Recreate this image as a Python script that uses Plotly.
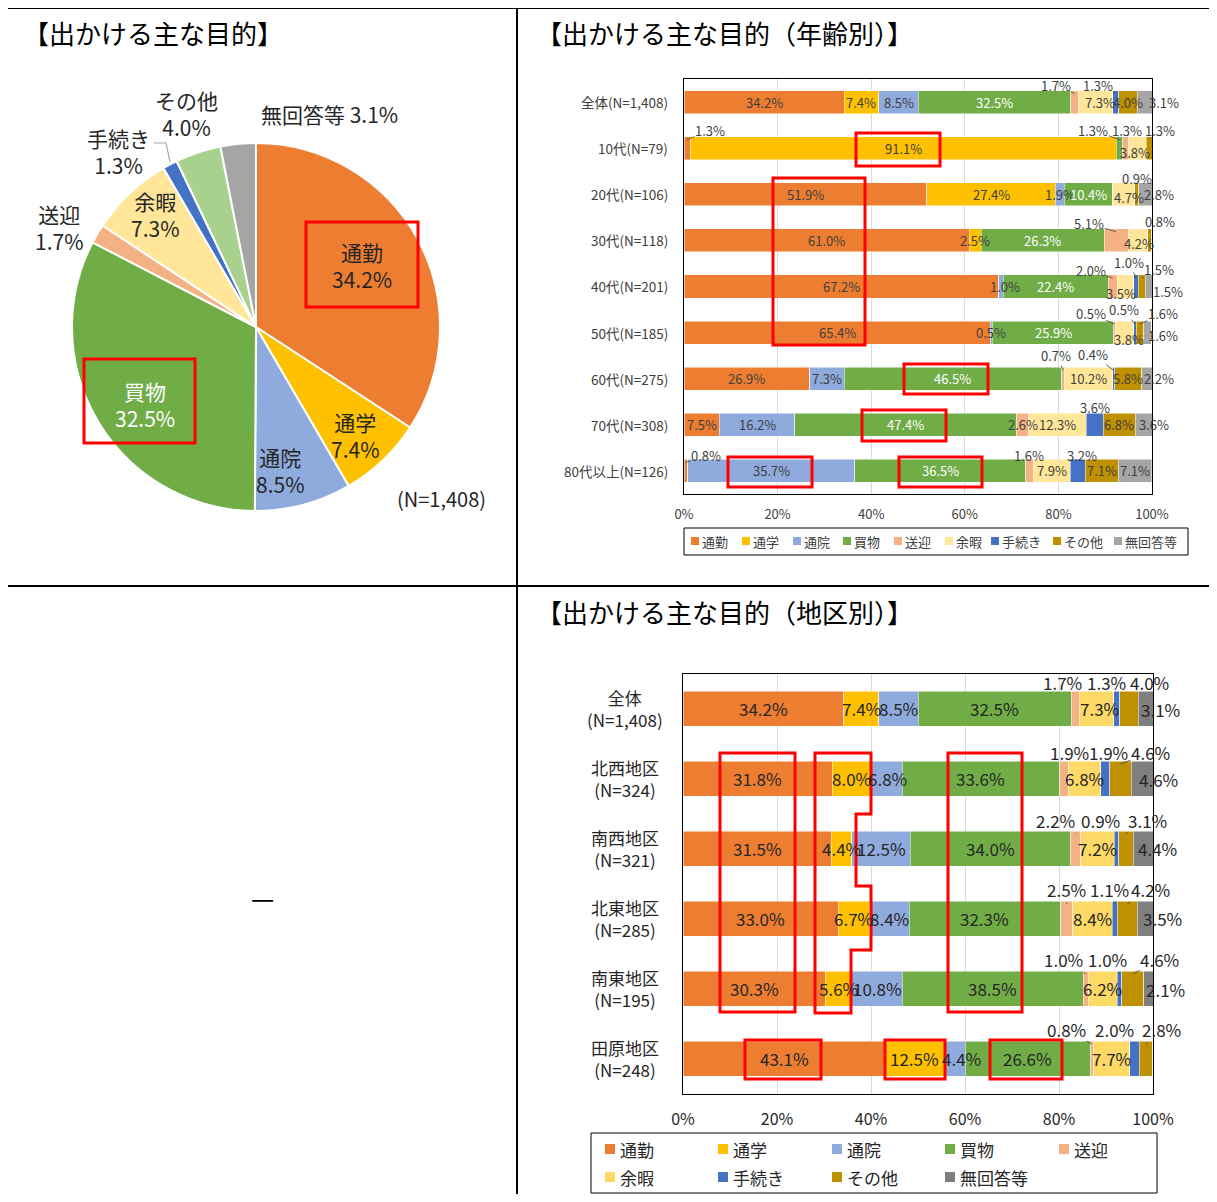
import plotly.graph_objects as go

# page body has an 8px margin, so the figure is 16px smaller than the window
W, H = 1201, 1186
OX, OY = 8, 8
FONT = "Noto Sans CJK JP"


def px(x):
    return (x - OX) / W


def py(y):
    return 1 - (y - OY) / H


# ---------------- data ----------------
categories = ["通勤", "通学", "通院", "買物", "送迎", "余暇", "手続き", "その他", "無回答等"]

pie_values = [34.2, 7.4, 8.5, 32.5, 1.7, 7.3, 1.3, 4.0, 3.1]
pie_n = "(N=1,408)"

age_groups = ["全体(N=1,408)", "10代(N=79)", "20代(N=106)", "30代(N=118)", "40代(N=201)",
              "50代(N=185)", "60代(N=275)", "70代(N=308)", "80代以上(N=126)"]
age_tsukin = [34.2, 1.3, 51.9, 61.0, 67.2, 65.4, 26.9, 7.5, 0.8]
age_tsugaku = [7.4, 91.1, 27.4, 2.5, 0.0, 0.0, 0.0, 0.0, 0.0]
age_tsuin = [8.5, 0.0, 1.9, 0.0, 1.0, 0.5, 7.3, 16.2, 35.7]
age_kaimono = [32.5, 1.3, 10.4, 26.3, 22.4, 25.9, 46.5, 47.4, 36.5]
age_sogei = [1.7, 1.3, 0.0, 5.1, 2.0, 0.5, 0.7, 2.6, 1.6]
age_yoka = [7.3, 3.8, 4.7, 4.2, 3.5, 3.8, 10.2, 12.3, 7.9]
age_tetsuzuki = [1.3, 0.0, 0.0, 0.0, 1.0, 0.5, 0.4, 3.6, 3.2]
age_sonota = [4.0, 1.3, 0.9, 0.8, 1.5, 1.6, 5.8, 6.8, 7.1]
age_mukaito = [3.1, 0.0, 2.8, 0.0, 1.5, 1.6, 2.2, 3.6, 7.1]

area_names = ["全体", "北西地区", "南西地区", "北東地区", "南東地区", "田原地区"]
area_n = ["(N=1,408)", "(N=324)", "(N=321)", "(N=285)", "(N=195)", "(N=248)"]
area_tsukin = [34.2, 31.8, 31.5, 33.0, 30.3, 43.1]
area_tsugaku = [7.4, 8.0, 4.4, 6.7, 5.6, 12.5]
area_tsuin = [8.5, 6.8, 12.5, 8.4, 10.8, 4.4]
area_kaimono = [32.5, 33.6, 34.0, 32.3, 38.5, 26.6]
area_sogei = [1.7, 1.9, 2.2, 2.5, 1.0, 0.8]
area_yoka = [7.3, 6.8, 7.2, 8.4, 6.2, 7.7]
area_tetsuzuki = [1.3, 1.9, 0.9, 1.1, 1.0, 2.0]
area_sonota = [4.0, 4.6, 3.1, 4.2, 4.6, 2.8]
area_mukaito = [3.1, 4.6, 4.4, 3.5, 2.1, 0.0]

x_tick_vals = [0, 20, 40, 60, 80, 100]
x_tick_text = ["0%", "20%", "40%", "60%", "80%", "100%"]

# ---------------- styles ----------------
colors_pie = ["#ED7D31", "#FFC000", "#8FAADC", "#70AD47", "#F4B183", "#FFE699", "#4472C4", "#A9D18E", "#A5A5A5"]
colors_age = ["#ED7D31", "#FFC000", "#8FAADC", "#70AD47", "#F4B183", "#FFE699", "#4472C4", "#BF9000", "#A5A5A5"]
colors_area = ["#ED7D31", "#FFC000", "#8FAADC", "#70AD47", "#F4B183", "#FFD966", "#4472C4", "#BF9000", "#7F7F7F"]

age_series = [age_tsukin, age_tsugaku, age_tsuin, age_kaimono, age_sogei, age_yoka,
              age_tetsuzuki, age_sonota, age_mukaito]
area_series = [area_tsukin, area_tsugaku, area_tsuin, area_kaimono, area_sogei, area_yoka,
               area_tetsuzuki, area_sonota, area_mukaito]

# label placement tweaks: (row, category) -> (dx px, dy px, leader line)
age_label_pos = {
    (0, 4): (-19, -17, True), (0, 5): (4, 0, False), (0, 6): (-18, -17, True), (0, 8): (19, 0, False),
    (1, 0): (23, -18, True), (1, 3): (-26, -18, True), (1, 4): (1, -18, True), (1, 5): (-2, 4, False),
    (1, 7): (11, -18, True),
    (2, 5): (5, 3, False), (2, 7): (0, -16, True), (2, 8): (14, 0, False),
    (3, 4): (-27, -17, True), (3, 5): (1, 3, False), (3, 7): (10, -19, True),
    (4, 2): (4, 0, False), (4, 4): (-22, -16, True), (4, 5): (-5, 7, False), (4, 6): (-7, -24, True),
    (4, 7): (17, -17, True), (4, 8): (19, 5, False),
    (5, 4): (-24, -19, True), (5, 5): (4, 7, False), (5, 6): (-11, -23, True), (5, 7): (23, -19, True),
    (5, 8): (16, 3, False),
    (6, 4): (-7, -23, True), (6, 6): (-21, -24, True), (6, 8): (12, 0, False),
    (7, 6): (0, -17, False), (7, 8): (10, 0, False),
    (8, 0): (20, -15, True), (8, 4): (0, -15, False), (8, 6): (4, -15, False),
}
area_label_pos = {
    (0, 4): (-13, -26, True), (0, 5): (3, 0, False), (0, 6): (-10, -26, True), (0, 7): (20, -26, True),
    (0, 8): (15, 1, False),
    (1, 2): (1, 0, False), (1, 4): (5, -26, True), (1, 6): (3, -26, True), (1, 7): (30, -26, True),
    (1, 8): (16, 1, False),
    (2, 4): (-20, -28, True), (2, 6): (-16, -28, True), (2, 7): (22, -28, True), (2, 8): (14, 0, False),
    (3, 4): (0, -29, True), (3, 6): (-5, -29, True), (3, 7): (23, -29, True), (3, 8): (17, 0, False),
    (4, 4): (-22, -29, True), (4, 6): (-12, -29, True), (4, 7): (27, -29, True), (4, 8): (17, 1, False),
    (5, 2): (7, 0, False), (5, 4): (-25, -29, True), (5, 6): (-20, -29, True), (5, 7): (16, -29, True),
}

# pie label centres (px)
pie_label_xy = {"通勤": (362, 266), "通学": (355, 435), "通院": (280, 470), "買物": (145, 404),
                "送迎": (59, 228), "余暇": (155, 214), "手続き": (118, 151), "その他": (186, 113),
                "無回答等": (329, 114)}

fig = go.Figure()

# ---------------- pie ----------------
fig.add_trace(go.Pie(
    values=pie_values, labels=categories, sort=False, direction="clockwise", rotation=0,
    marker=dict(colors=colors_pie, line=dict(color="white", width=2)),
    textinfo="none", hoverinfo="label+percent", showlegend=False,
    domain=dict(x=[px(72), px(440)], y=[py(511), py(143)]),
))

# ---------------- bars ----------------
for j, cat in enumerate(categories):
    fig.add_trace(go.Bar(
        y=age_groups, x=age_series[j], orientation="h", name=cat,
        marker=dict(color=colors_age[j], line=dict(color="white", width=0.5)),
        xaxis="x", yaxis="y", showlegend=False,
    ))
for j, cat in enumerate(categories):
    fig.add_trace(go.Bar(
        y=area_names, x=area_series[j], orientation="h", name=cat,
        marker=dict(color=colors_area[j], line=dict(color="white", width=0.5)),
        xaxis="x2", yaxis="y2", showlegend=False,
    ))

annotations = []
shapes = []


def bar_labels(series, groups, pos, xref, yref, pitch, half, fsize, color, white_cat):
    for i in range(len(groups)):
        cum = 0.0
        for j, ser in enumerate(series):
            v = ser[i]
            if v <= 0:
                continue
            c = cum + v / 2
            cum += v
            dx, dy, lead = pos.get((i, j), (0, 0, False))
            txt = f"{v:.1f}%"
            col = "white" if (j == white_cat and dy == 0 and not lead) else color
            font = dict(family=FONT, size=fsize, color=col)
            if lead:
                head = -half + 3
                annotations.append(dict(
                    x=c, y=i + head / pitch, xref=xref, yref=yref, text=txt,
                    showarrow=True, arrowhead=0, arrowwidth=0.8, arrowcolor="#404040",
                    ax=dx, ay=dy - head, standoff=0, borderpad=0, font=font))
            else:
                annotations.append(dict(
                    x=c, y=i, xref=xref, yref=yref, text=txt, showarrow=False,
                    xanchor="center", yanchor="middle",
                    xshift=dx, yshift=-dy, font=font))


bar_labels(age_series, age_groups, age_label_pos, "x", "y", 46.1, 11.5, 13, "#404040", 3)
bar_labels(area_series, area_names, area_label_pos, "x2", "y2", 70, 17.5, 17, "#262626", None)


def paper_text(text, x, y, size, color, xanchor="center"):
    annotations.append(dict(x=px(x), y=py(y), xref="paper", yref="paper", text=text, showarrow=False,
                            xanchor=xanchor, yanchor="middle", font=dict(family=FONT, size=size, color=color)))


# category labels
for i, g in enumerate(age_groups):
    annotations.append(dict(x=px(670), y=i, xref="paper", yref="y", text=g, showarrow=False,
                            xanchor="right", yanchor="middle",
                            font=dict(family=FONT, size=13.5, color="#404040")))
for i, (g, n) in enumerate(zip(area_names, area_n)):
    annotations.append(dict(x=px(625), y=i, xref="paper", yref="y2", text=f"{g}<br>{n}",
                            showarrow=False, xanchor="center", yanchor="middle", align="center",
                            font=dict(family=FONT, size=17, color="#262626")))

# pie labels
for k, cat in enumerate(categories):
    v = pie_values[k]
    xx, yy = pie_label_xy[cat]
    txt = f"{cat} {v:.1f}%" if cat == "無回答等" else f"{cat}<br>{v:.1f}%"
    col = "white" if cat == "買物" else "#262626"
    paper_text(txt, xx, yy, 21, col)
paper_text(pie_n, 442, 498, 20, "#262626")
shapes.append(dict(type="path", xref="paper", yref="paper",
                   path=f"M {px(154)} {py(143)} L {px(166)} {py(143)} L {px(170)} {py(162)}",
                   line=dict(color="#A6A6A6", width=1.2)))

# titles
titles = [("【出かける主な目的】", 21, 33), ("【出かける主な目的（年齢別）】", 534, 33),
          ("【出かける主な目的（地区別）】", 534, 611)]
for t, xx, yy in titles:
    paper_text(t, xx, yy, 26, "black", xanchor="left")
paper_text("—", 262, 897, 26, "black")

# legends (manual)
leg1_x = [691, 742, 793, 843, 894, 945, 991, 1053, 1114]
shapes.append(dict(type="rect", xref="paper", yref="paper", x0=px(684), x1=px(1188), y0=py(555), y1=py(528),
                   line=dict(color="black", width=1)))
for k, cat in enumerate(categories):
    x0 = leg1_x[k]
    shapes.append(dict(type="rect", xref="paper", yref="paper", x0=px(x0), x1=px(x0 + 8),
                       y0=py(545), y1=py(537), fillcolor=colors_age[k], line=dict(width=0)))
    paper_text(cat, x0 + 9, 541, 13, "#404040", xanchor="left")

leg2_x = [605, 718, 832, 945, 1059]
leg2_y = [1149, 1177]
shapes.append(dict(type="rect", xref="paper", yref="paper", x0=px(591), x1=px(1157), y0=py(1193), y1=py(1133),
                   line=dict(color="black", width=1)))
for k, cat in enumerate(categories):
    x0 = leg2_x[k % 5]
    y0 = leg2_y[k // 5]
    shapes.append(dict(type="rect", xref="paper", yref="paper", x0=px(x0), x1=px(x0 + 10),
                       y0=py(y0 + 5), y1=py(y0 - 5), fillcolor=colors_area[k], line=dict(width=0)))
    paper_text(cat, x0 + 13, y0, 17, "#262626", xanchor="left")

# highlight boxes (red)
red_boxes = [(306, 222, 418, 307), (84, 359, 195, 443),
             (856, 133, 940, 166), (773, 178, 865, 345), (904, 364, 988, 394), (862, 410, 946, 441),
             (728, 457, 812, 487), (899, 457, 982, 487),
             (720, 753, 795, 1012), (948, 753, 1022, 1012),
             (745, 1040, 821, 1079), (885, 1040, 945, 1079), (990, 1040, 1062, 1079)]
for (a, b, c, d) in red_boxes:
    shapes.append(dict(type="rect", xref="paper", yref="paper", x0=px(a), x1=px(c), y0=py(d), y1=py(b),
                       line=dict(color="#FF0000", width=3)))
poly = [(815, 753), (871, 753), (871, 814), (856, 814), (856, 886), (871, 886), (871, 950),
        (851, 950), (851, 1013), (815, 1013)]
path = "M " + " L ".join(f"{px(a)} {py(b)}" for a, b in poly) + " Z"
shapes.append(dict(type="path", xref="paper", yref="paper", path=path, line=dict(color="#FF0000", width=3)))

# table lines
table_lines = [(7, 8, 1217, 8), (7, 8, 7, 1202), (517, 8, 517, 1202), (7, 586, 1217, 586)]
for (a, b, c, d) in table_lines:
    shapes.append(dict(type="line", xref="paper", yref="paper", x0=px(a), y0=py(b), x1=px(c), y1=py(d),
                       line=dict(color="black", width=2)))

axis_common = dict(range=[0, 100], tickvals=x_tick_vals, ticktext=x_tick_text, showgrid=True,
                   gridcolor="#D9D9D9", gridwidth=1, zeroline=False, showline=True, mirror=True,
                   linecolor="black", linewidth=1, ticks="outside", tickcolor="rgba(0,0,0,0)",
                   fixedrange=True, automargin=False)
yaxis_common = dict(type="category", showticklabels=False, showgrid=False, zeroline=False,
                    showline=True, mirror=True, linecolor="black", linewidth=1, fixedrange=True,
                    automargin=False, ticks="")

fig.update_layout(
    template="none",
    width=W, height=H, margin=dict(l=0, r=0, t=0, b=0, pad=0, autoexpand=False),
    paper_bgcolor="white", plot_bgcolor="white",
    barmode="stack", bargap=0.5, showlegend=False,
    font=dict(family=FONT),
    xaxis=dict(domain=[px(684), px(1152)], anchor="y", ticklen=8,
               tickfont=dict(family=FONT, size=13, color="#404040"), **axis_common),
    yaxis=dict(domain=[py(494), py(79)], anchor="x", range=[8.5, -0.5], **yaxis_common),
    xaxis2=dict(domain=[px(683), px(1153)], anchor="y2", ticklen=11,
                tickfont=dict(family=FONT, size=16, color="#262626"), **axis_common),
    yaxis2=dict(domain=[py(1093.5), py(673.5)], anchor="x2", range=[5.5, -0.5], **yaxis_common),
    annotations=annotations, shapes=shapes,
)

fig.write_html("out.html")
